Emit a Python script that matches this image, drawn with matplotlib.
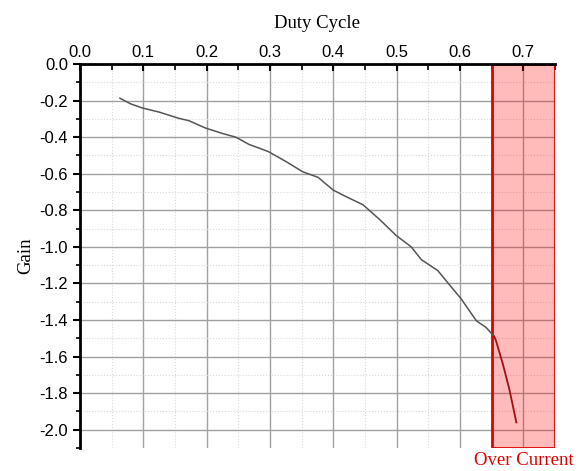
import matplotlib.pyplot as plt
import numpy as np
from matplotlib.ticker import MultipleLocator

# normal operation
duty = [0.063, 0.080, 0.098, 0.125, 0.156, 0.172, 0.198, 0.225, 0.246, 0.267,
        0.283, 0.298, 0.325, 0.352, 0.376, 0.400, 0.420, 0.447, 0.473, 0.499,
        0.523, 0.539, 0.565, 0.584, 0.602, 0.626, 0.641, 0.654]
gain = [-0.187, -0.218, -0.240, -0.263, -0.297, -0.310, -0.350, -0.380, -0.400, -0.440,
        -0.460, -0.480, -0.533, -0.590, -0.620, -0.690, -0.725, -0.770, -0.850, -0.937,
        -1.000, -1.070, -1.130, -1.210, -1.285, -1.405, -1.440, -1.490]

# over current part
duty_oc = [0.654, 0.657, 0.668, 0.678, 0.689]
gain_oc = [-1.490, -1.515, -1.645, -1.780, -1.960]

oc_start, oc_end = 0.65, 0.75

yticks = [-2.0, -1.8, -1.6, -1.4, -1.2, -1.0, -0.8, -0.6, -0.4, -0.2, 0.0]
ytick_labels = ['-2.0', '-1.8', '-1.6', '-1.4', '-1.2', '-1.0', '-0.8', '-0.6', '-0.4', '-0.2', '0.0']

plt.rcParams['axes.unicode_minus'] = False
plt.rcParams['font.family'] = ['Liberation Sans', 'DejaVu Sans']

fig = plt.figure(figsize=(5.78, 4.71), dpi=100)
ax = fig.add_axes([0.1384, 0.0488, 0.8218, 0.8153])

ax.set_xlim(0, 0.75)
ax.set_ylim(-2.1, 0)

ax.xaxis.set_major_locator(MultipleLocator(0.1))
ax.xaxis.set_minor_locator(MultipleLocator(0.05))
ax.set_yticks(yticks)
ax.set_yticklabels(ytick_labels)
ax.yaxis.set_minor_locator(MultipleLocator(0.1))

ax.grid(which='major', color='#a0a0a0', lw=1.0, ls='-', zorder=0)
ax.grid(which='minor', color='#d8d8d8', lw=0.8, ls=':', zorder=0)
ax.set_axisbelow(True)

ax.xaxis.tick_top()
ax.xaxis.set_label_position('top')
ax.tick_params(axis='x', which='major', direction='in', length=5, width=1.5, labelsize=12, pad=3)
ax.tick_params(axis='x', which='minor', direction='in', length=4, width=1.2)
ax.tick_params(axis='y', which='major', direction='out', length=5, width=1.5, labelsize=12)
ax.tick_params(axis='y', which='minor', direction='out', length=3, width=1.2)

for s in ['bottom', 'right']:
    ax.spines[s].set_visible(False)
ax.spines['top'].set_linewidth(2)
ax.spines['left'].set_linewidth(2)

ax.axvspan(oc_start, oc_end, facecolor=(1, 0, 0, 0.27), edgecolor='#e00000', lw=2, zorder=2)

ax.plot(duty, gain, color='#555555', lw=1.1, zorder=3)
ax.plot(duty_oc, gain_oc, color='#a01010', lw=1.3, zorder=3)

ax.set_xlabel('Duty Cycle', family=['Liberation Serif'], fontsize=13.5, labelpad=12)
ax.set_ylabel('Gain', family=['Liberation Serif'], fontsize=13.5, labelpad=4)
ax.text((oc_start + oc_end) / 2, -2.12, 'Over Current', color='#e00000',
        family=['Liberation Serif'], fontsize=13.5, ha='center', va='top')

fig.savefig('out.png', dpi=100)
